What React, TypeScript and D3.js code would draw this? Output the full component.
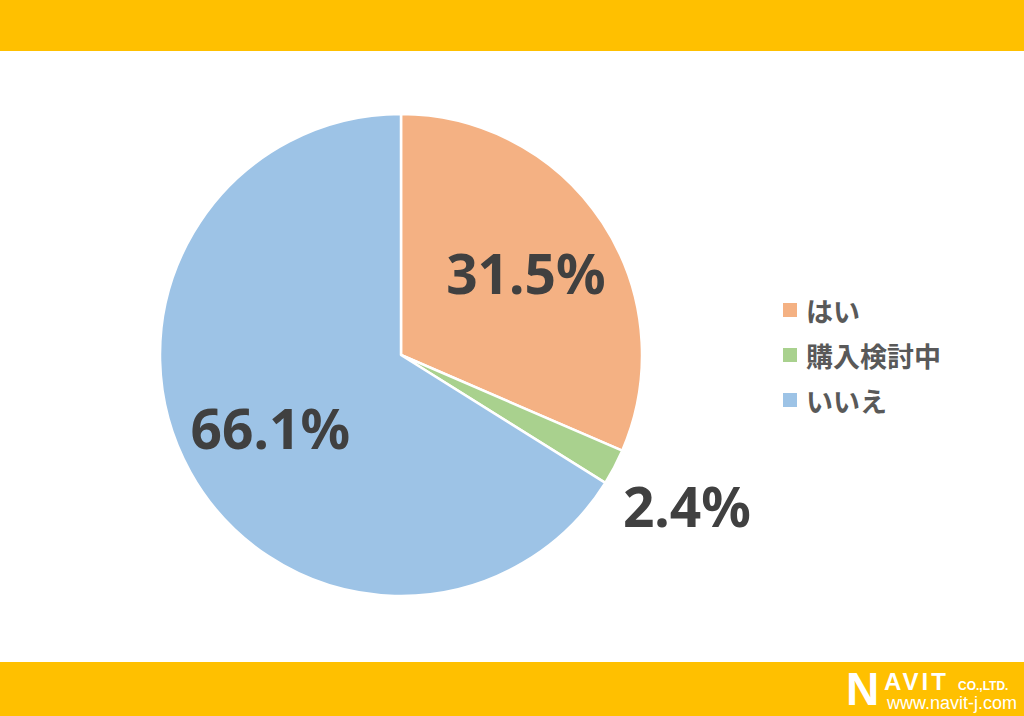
import React from "react";
import * as d3 from "d3";

const categories = ["はい", "購入検討中", "いいえ"];
const values = [31.5, 2.4, 66.1];
const labels = ["31.5%", "2.4%", "66.1%"];
const colors = ["#F4B183", "#A9D18E", "#9DC3E6"];

export default function App() {
  const W = 1024, H = 716;
  const cx = 401, cy = 355, R = 241;
  const pie = d3.pie<number>().sort(null).value((d) => d)(values);
  const arc = d3.arc<d3.PieArcDatum<number>>().innerRadius(0).outerRadius(R);
  const labelPos = (i: number) => {
    const p = pie[i];
    const a = (p.startAngle + p.endAngle) / 2;
    const r = i === 1 ? R * 1.34 : R * 0.62;
    return [Math.sin(a) * r, -Math.cos(a) * r];
  };
  return (
    <svg width={W} height={H} style={{ position: "absolute", left: 0, top: 0, background: "#fff" }}>
      <rect x={0} y={0} width={W} height={51} fill="#FFC000" />
      <rect x={0} y={662} width={W} height={H - 662} fill="#FFC000" />
      <g transform={`translate(${cx},${cy})`}>
        {pie.map((p, i) => (
          <path key={i} d={arc(p) || ""} fill={colors[i]} stroke="#fff" strokeWidth={2.5} strokeLinejoin="round" />
        ))}
        {pie.map((p, i) => {
          const [x, y] = labelPos(i);
          return (
            <text key={"l" + i} x={x} y={y} textAnchor="middle" dominantBaseline="central"
              fontFamily="'Noto Sans', sans-serif" fontWeight={700} fontSize={55} fill="#404040">
              {labels[i]}
            </text>
          );
        })}
      </g>
      <g>
        {categories.map((c, i) => (
          <g key={c} transform={`translate(783,${303 + i * 45})`}>
            <rect x={0} y={0} width={14} height={14} fill={colors[i]} />
            <text x={23} y={7} dominantBaseline="central" fontFamily="'Noto Sans CJK JP', sans-serif"
              fontWeight={700} fontSize={27} fill="#595959">{c}</text>
          </g>
        ))}
      </g>
      <g fill="#fff" fontFamily="'Liberation Sans', Arial, sans-serif" fontWeight={700}>
        <text x={846} y={705} fontSize={46}>N</text>
        <text x={884} y={690} fontSize={24} letterSpacing={3}>AVIT</text>
        <text x={958} y={690} fontSize={12}>CO.,LTD.</text>
        <text x={887} y={709} fontSize={18} fontWeight={400}>www.navit-j.com</text>
      </g>
    </svg>
  );
}
